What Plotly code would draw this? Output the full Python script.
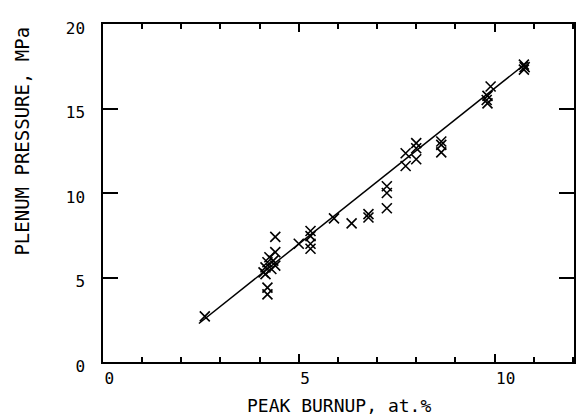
import plotly.graph_objects as go

# Measured plenum pressure vs. peak burnup
burnup = [2.6, 4.1, 4.15, 4.2, 4.25, 4.35, 4.4, 4.3, 4.15, 4.4, 4.4, 4.2, 4.2,
          5.0, 5.3, 5.3, 5.3, 5.3, 5.9, 6.35, 6.78, 6.78, 7.25, 7.25, 7.25,
          7.73, 7.73, 8.0, 8.0, 8.0, 8.64, 8.64, 8.64,
          9.9, 9.82, 9.8, 9.82, 10.75, 10.77, 10.75]
pressure = [2.7, 5.3, 5.6, 5.9, 6.2, 6.0, 5.7, 5.5, 5.2, 6.5, 7.4, 4.4, 4.0,
            7.0, 7.75, 7.45, 7.0, 6.7, 8.5, 8.2, 8.75, 8.55, 10.4, 10.0, 9.1,
            12.35, 11.6, 12.95, 12.65, 12.0, 13.05, 12.85, 12.4,
            16.3, 15.75, 15.5, 15.3, 17.6, 17.45, 17.3]

# Linear fit through the data
fit_x = [2.45, 10.85]
fit_y = [2.28, 17.76]

x_ticks = [0, 5, 10]
y_ticks = [0, 5, 10, 15, 20]

FONT = "DejaVu Sans Mono"

fig = go.Figure()
fig.add_trace(go.Scatter(
    x=fit_x, y=fit_y, mode="lines",
    line=dict(color="black", width=1.5), showlegend=False))
fig.add_trace(go.Scatter(
    x=burnup, y=pressure, mode="markers",
    marker=dict(symbol="x-thin", size=10, color="black",
                line=dict(color="black", width=1.6)),
    showlegend=False))

fig.update_layout(
    width=576, height=420,
    margin=dict(l=103, r=0, t=24, b=58),
    plot_bgcolor="white", paper_bgcolor="white",
    font=dict(family=FONT, color="black", size=16),
    xaxis=dict(
        range=[0, 12.03], tickvals=x_ticks, ticktext=[str(v) for v in x_ticks],
        ticks="inside", ticklen=8, tickwidth=1.5, tickcolor="black",
        minor=dict(dtick=1, ticks="inside", ticklen=5, tickwidth=1.5, tickcolor="black"),
        showline=True, linecolor="black", linewidth=1.5, mirror="ticks",
        showgrid=False, zeroline=False,
        ticklabelposition="outside right", ticklabelstandoff=1,
    ),
    yaxis=dict(
        range=[0, 20], tickvals=y_ticks, ticktext=[str(v) for v in y_ticks],
        ticks="inside", ticklen=15, tickwidth=1.5, tickcolor="black",
        showline=True, linecolor="black", linewidth=1.5, mirror="ticks",
        showgrid=False, zeroline=False,
        ticklabelstandoff=13, ticklabelshift=4,
    ),
    annotations=[
        dict(text="PEAK BURNUP, at.%", xref="paper", yref="paper",
             x=0.5, y=-0.13, xanchor="center", yanchor="middle",
             showarrow=False, font=dict(family=FONT, size=18)),
        dict(text="PLENUM PRESSURE, MPa", xref="paper", yref="paper",
             x=-0.172, y=0.655, xanchor="center", yanchor="middle", textangle=-90,
             showarrow=False, font=dict(family=FONT, size=19)),
    ],
)

fig.write_html("out.html")
